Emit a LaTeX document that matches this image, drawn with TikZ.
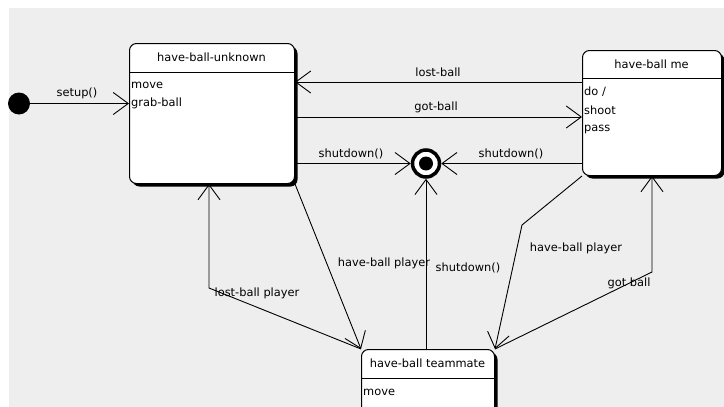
\documentclass[tikz,border=0pt]{standalone}
\usepackage{fontspec}
\setmainfont{DejaVu Sans}
\usetikzlibrary{arrows.meta,shadows,calc}
\definecolor{bg}{HTML}{EEEEEE}
\begin{document}
\begin{tikzpicture}[x=1pt,y=-1pt,
  state/.style={draw, line width=1pt, fill=white, rounded corners=7pt, anchor=north west, inner sep=0pt,
    drop shadow={shadow xshift=3pt, shadow yshift=-3pt, fill=black, opacity=1}},
  arr/.style={line width=0.9pt, -{Straight Barb[length=15pt,width=22pt,line width=0.9pt]}},
  lbl/.style={font=\fontsize{11.4}{13}\selectfont, inner sep=0pt},
  item/.style={lbl, anchor=west},
  divider/.style={line width=1pt},
]
\useasboundingbox (0,0) rectangle (724,407);
\clip (0,0) rectangle (724,407);
\fill[bg] (9,8) rectangle (724,407);

% states
\node[state, minimum width=165pt, minimum height=140pt] (b1) at (129,43) {};
\node[lbl] (t1) at (211.5,57.5) {have-ball-unknown};
\draw[divider] ($(b1.north west)+(0,29)$) -- ($(b1.north east)+(0,29)$);
\node[item] (m1) at (131,85) {move};
\node[item] (g1) at (131,103) {grab-ball};

\node[state, minimum width=139pt, minimum height=125pt] (b2) at (582,50) {};
\node[lbl] (t2) at (651.5,64) {have-ball me};
\draw[divider] ($(b2.north west)+(0,28)$) -- ($(b2.north east)+(0,28)$);
\node[item] (d2) at (584,92) {do /};
\node[item] (s2) at (584,110) {shoot};
\node[item] (p2) at (584,129) {pass};

\node[state, minimum width=133pt, minimum height=80pt] (b3) at (361,349) {};
\node[lbl] (t3) at (427.5,363.5) {have-ball teammate};
\draw[divider] ($(b3.north west)+(0,29)$) -- ($(b3.north east)+(0,29)$);
\node[item] (m3) at (363,392) {move};

% pseudo states
\node[circle, fill=black, minimum size=22pt, inner sep=0pt] (init) at (19,103.5) {};
\node[circle, draw, line width=3.5pt, fill=white, minimum size=27pt, inner sep=0pt] (fin) at (426,163.5) {};
\fill (fin.center) circle (7);

% helper coordinates
\coordinate (lp) at (209,288);
\coordinate (hp) at (522,225);
\coordinate (gb) at (652,272);

% transitions
\draw[arr] (init.east) -- (init.east -| b1.west);
\draw[arr] (b2.west |- 0,82) -- (b1.east |- 0,82);
\draw[arr] (b1.east |- 0,117) -- (b2.west |- 0,117);
\draw[arr] (b1.east |- fin) -- (fin.west);
\draw[arr] (b2.west |- fin) -- (fin.east);
\draw[arr] (fin |- b3.north) -- (fin.south);
\draw[arr] (b3.north west) -- (lp) -- (lp |- b1.south);
\draw[arr] (b1.south east) -- (b3.north west);
\draw[arr] (b2.south west) -- (hp) -- (b3.north east);
\draw[arr] (b3.north east) -- (gb) -- (gb |- b2.south);

% labels
\node[lbl] (l1) at (77,93) {setup()};
\node[lbl] (l2) at (438,72) {lost-ball};
\node[lbl] (l3) at (436,107) {got-ball};
\node[lbl] (l4) at (351,154) {shutdown()};
\node[lbl] (l5) at (511,154) {shutdown()};
\node[lbl] (l6) at (384,263) {have-ball player};
\node[lbl] (l7) at (468,268) {shutdown()};
\node[lbl] (l8) at (257,293) {lost-ball player};
\node[lbl] (l9) at (576,248) {have-ball player};
\node[lbl] (l10) at (629,283) {got ball};
\end{tikzpicture}
\end{document}
